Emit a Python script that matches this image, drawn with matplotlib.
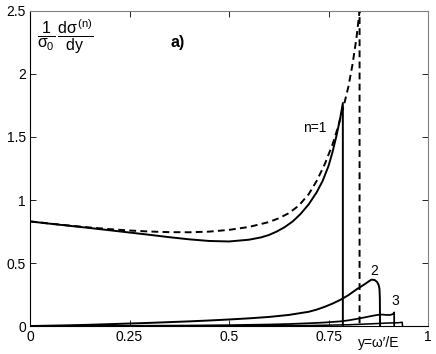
import matplotlib
matplotlib.use("Agg")
import matplotlib.pyplot as plt

plt.rcParams['font.family'] = ['Liberation Sans', 'DejaVu Sans']
plt.rcParams['mathtext.fontset'] = 'custom'
plt.rcParams['mathtext.rm'] = 'Liberation Sans'
plt.rcParams['mathtext.it'] = 'Liberation Sans'
plt.rcParams['mathtext.sf'] = 'Liberation Sans'

# linear Compton (dashed), ends at the kinematic edge
y_lin = [0.0, 0.05, 0.1, 0.15, 0.2, 0.25, 0.3, 0.35, 0.4, 0.45, 0.5, 0.55, 0.6, 0.625,
         0.65, 0.675, 0.7, 0.72, 0.74, 0.76, 0.775, 0.79, 0.8, 0.81, 0.82, 0.828, 0.828]
s_lin = [0.83, 0.813, 0.797, 0.782, 0.769, 0.758, 0.75, 0.745, 0.744, 0.749, 0.763, 0.786,
         0.825, 0.855, 0.895, 0.955, 1.045, 1.15, 1.28, 1.44, 1.59, 1.77, 1.90, 2.07, 2.28, 2.5, 0.0]

# harmonic n=1
y_n1 = [0.0, 0.05, 0.1, 0.15, 0.2, 0.25, 0.3, 0.35, 0.4, 0.45, 0.5, 0.55, 0.58, 0.6, 0.62,
        0.64, 0.66, 0.68, 0.7, 0.72, 0.735, 0.75, 0.76, 0.77, 0.78, 0.786, 0.786]
s_n1 = [0.83, 0.812, 0.795, 0.778, 0.76, 0.742, 0.724, 0.705, 0.688, 0.675, 0.671, 0.685,
        0.703, 0.722, 0.75, 0.785, 0.83, 0.89, 0.965, 1.06, 1.15, 1.27, 1.38, 1.51, 1.66, 1.77, 0.0]

# harmonic n=2
y_n2 = [0.0, 0.05, 0.1, 0.15, 0.2, 0.25, 0.3, 0.35, 0.4, 0.45, 0.5, 0.55, 0.6, 0.65, 0.7,
        0.72, 0.74, 0.76, 0.78, 0.8, 0.82, 0.84, 0.85, 0.858, 0.866, 0.872, 0.876, 0.878,
        0.879, 0.8795]
s_n2 = [0.0, 0.003, 0.006, 0.01, 0.015, 0.02, 0.025, 0.031, 0.037, 0.044, 0.052, 0.061,
        0.072, 0.088, 0.113, 0.13, 0.152, 0.178, 0.208, 0.245, 0.29, 0.33, 0.352, 0.368,
        0.365, 0.35, 0.325, 0.295, 0.22, 0.0]

# harmonic n=3
y_n3 = [0.0, 0.2, 0.4, 0.5, 0.6, 0.65, 0.7, 0.74, 0.78, 0.8, 0.82, 0.84, 0.86, 0.875,
        0.885, 0.895, 0.905, 0.912, 0.915, 0.915]
s_n3 = [0.0, 0.001, 0.004, 0.007, 0.012, 0.016, 0.022, 0.028, 0.037, 0.045, 0.056, 0.068,
        0.081, 0.089, 0.091, 0.088, 0.088, 0.095, 0.108, 0.0]

# harmonic n=4
y_n4 = [0.0, 0.5, 0.7, 0.8, 0.86, 0.9, 0.925, 0.935, 0.936]
s_n4 = [0.0, 0.001, 0.004, 0.01, 0.018, 0.024, 0.026, 0.03, 0.0]

xticks = [0, 0.25, 0.5, 0.75, 1]
xtick_labels = ['0', '0.25', '0.5', '0.75', '1']
yticks = [0, 0.5, 1, 1.5, 2, 2.5]
ytick_labels = ['0', '0.5', '1', '1.5', '2', '2.5']

fig = plt.figure(figsize=(4.36, 3.54), dpi=100)
ax = fig.add_axes([0.0688, 0.079, 0.9129, 0.890])

lw = 1.4
ax.plot(y_lin, s_lin, color='black', lw=lw, linestyle=(0, (3.5, 2.2)))
ax.plot(y_n1, s_n1, color='black', lw=lw)
ax.plot(y_n2, s_n2, color='black', lw=lw)
ax.plot(y_n3, s_n3, color='black', lw=lw * 0.9)
ax.plot(y_n4, s_n4, color='black', lw=lw * 0.8)

ax.set_xlim(0, 1)
ax.set_ylim(0, 2.5)
ax.set_xticks(xticks)
ax.set_xticklabels(xtick_labels)
ax.set_yticks(yticks)
ax.set_yticklabels(ytick_labels)
ax.tick_params(direction='in', top=True, right=True, length=4, width=0.6,
               labelsize=10, pad=3, colors='black')
for side in ['top', 'right']:
    ax.spines[side].set_color('#808080')
for side in ax.spines:
    ax.spines[side].set_linewidth(0.8)

ax.text(0.018, 0.98, r'$\dfrac{1}{\sigma_0}\,\dfrac{\mathrm{d}\sigma^{(n)}}{\mathrm{dy}}$',
        transform=ax.transAxes, ha='left', va='top', fontsize=11.5)
ax.text(0.37, 2.25, 'a)', fontsize=11.5, fontweight='bold', ha='center', va='center')
ax.text(0.716, 1.57, 'n=1', fontsize=10, ha='center', va='center')
ax.text(0.864, 0.44, '2', fontsize=10, ha='center', va='center')
ax.text(0.917, 0.20, '3', fontsize=10, ha='center', va='center')
ax.text(0.875, -0.135, "y=ω′/E", fontsize=10, ha='center', va='center', clip_on=False)

fig.savefig('out.png', dpi=100)
